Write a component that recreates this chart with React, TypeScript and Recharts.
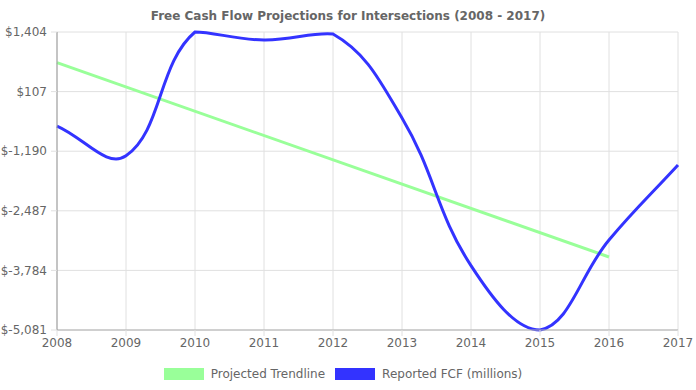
import { CartesianGrid, Line, LineChart, XAxis, YAxis } from "recharts";

const years = ["2008", "2009", "2010", "2011", "2012", "2013", "2014", "2015", "2016", "2017"];
const reportedFcf = [-642, -1290, 1404, 1230, 1360, -467, -3680, -5081, -3122, -1490];
const trendline = [736, null, null, null, null, null, null, null, -3492, null];
const yTicks = [1404, 107, -1190, -2487, -3784, -5081];

const data = years.map((year, i) => ({
  year,
  fcf: reportedFcf[i],
  trend: trendline[i],
}));

// bezier spline like the old chart.js lines (tension 0.4, control points kept in the plot box)
function splineCurve(context: any) {
  let pts: number[][] = [];
  return {
    areaStart() {},
    areaEnd() {},
    lineStart() {
      pts = [];
    },
    point(x: number, y: number) {
      pts.push([+x, +y]);
    },
    lineEnd() {
      if (!pts.length) return;
      const xs = pts.map((p) => p[0]);
      const ys = pts.map((p) => p[1]);
      const minX = Math.min(...xs), maxX = Math.max(...xs);
      const minY = Math.min(...ys), maxY = Math.max(...ys);
      const cap = (v: number, lo: number, hi: number) => Math.max(Math.min(v, hi), lo);
      const t = 0.4;
      const cps = pts.map((cur, i) => {
        const prev = pts[i - 1] || cur;
        const next = pts[i + 1] || cur;
        const d01 = Math.hypot(cur[0] - prev[0], cur[1] - prev[1]);
        const d12 = Math.hypot(next[0] - cur[0], next[1] - cur[1]);
        let s01 = d01 / (d01 + d12);
        let s12 = d12 / (d01 + d12);
        if (isNaN(s01)) s01 = 0;
        if (isNaN(s12)) s12 = 0;
        const fa = t * s01;
        const fb = t * s12;
        return {
          px: cap(cur[0] - fa * (next[0] - prev[0]), minX, maxX),
          py: cap(cur[1] - fa * (next[1] - prev[1]), minY, maxY),
          nx: cap(cur[0] + fb * (next[0] - prev[0]), minX, maxX),
          ny: cap(cur[1] + fb * (next[1] - prev[1]), minY, maxY),
        };
      });
      context.moveTo(pts[0][0], pts[0][1]);
      for (let i = 1; i < pts.length; i++) {
        context.bezierCurveTo(cps[i - 1].nx, cps[i - 1].ny, cps[i].px, cps[i].py, pts[i][0], pts[i][1]);
      }
    },
  };
}

const fmt = (v: number) => "$" + v.toLocaleString("en-US");

export default function App() {
  return (
    <div style={{ position: "relative", width: 696, height: 390, fontFamily: "DejaVu Sans", color: "#666" }}>
      <style>{"body{margin:0}"}</style>
      <div
        style={{
          position: "absolute",
          top: 9,
          left: 0,
          width: 696,
          textAlign: "center",
          fontSize: 12,
          fontWeight: "bold",
        }}
      >
        Free Cash Flow Projections for Intersections (2008 - 2017)
      </div>
      <LineChart width={696} height={390} data={data} margin={{ top: 32, right: 18, bottom: 30, left: 0 }}>
        <CartesianGrid stroke="#e0e0e0" />
        <XAxis
          dataKey="year"
          stroke="#b0b0b0"
          tickLine={{ stroke: "#e0e0e0" }}
          tick={{ fill: "#666", fontSize: 12 }}
          tickMargin={2}
          height={30}
        />
        <YAxis
          domain={[-5081, 1404]}
          ticks={yTicks}
          tickFormatter={fmt}
          width={57}
          stroke="#999"
          tickLine={{ stroke: "#e0e0e0" }}
          tick={{ fill: "#666", fontSize: 12 }}
          tickMargin={4}
          interval={0}
        />
        <Line
          dataKey="trend"
          type="linear"
          connectNulls
          stroke="#99ff99"
          strokeWidth={3}
          dot={false}
          isAnimationActive={false}
        />
        <Line
          dataKey="fcf"
          type={splineCurve as any}
          stroke="#3333ff"
          strokeWidth={3}
          dot={false}
          isAnimationActive={false}
        />
      </LineChart>
      <div
        style={{
          position: "absolute",
          top: 368,
          left: 0,
          width: 696,
          display: "flex",
          justifyContent: "center",
          fontSize: 12,
          lineHeight: "12px",
          paddingRight: 10,
          boxSizing: "border-box",
        }}
      >
        <span style={{ display: "flex", alignItems: "center", marginRight: 10 }}>
          <span style={{ width: 40, height: 12, background: "#99ff99", marginRight: 7 }} />
          Projected Trendline
        </span>
        <span style={{ display: "flex", alignItems: "center" }}>
          <span style={{ width: 40, height: 12, background: "#3333ff", marginRight: 7 }} />
          Reported FCF (millions)
        </span>
      </div>
    </div>
  );
}
